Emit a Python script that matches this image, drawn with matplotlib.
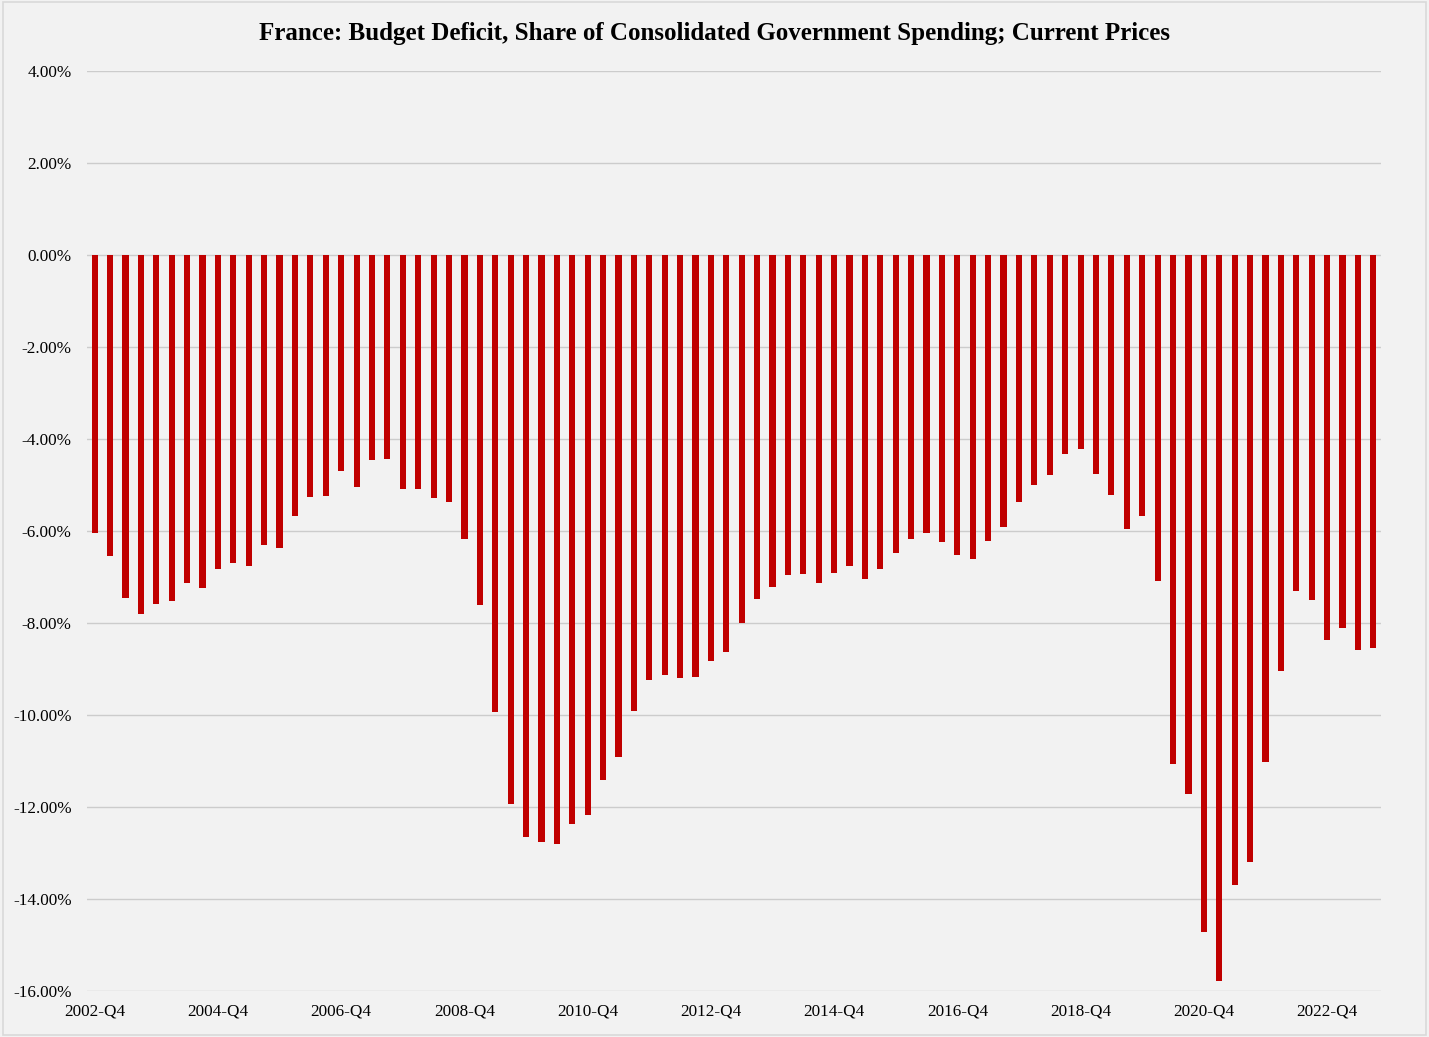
import matplotlib
matplotlib.use("Agg")
import numpy as np
import matplotlib.pyplot as plt
from matplotlib.patches import Rectangle
from matplotlib.ticker import FuncFormatter, FixedLocator

TITLE = "France: Budget Deficit, Share of Consolidated Government Spending; Current Prices"

# quarters 2002-Q4 .. 2023-Q3
START_YEAR, START_Q, N_QUARTERS = 2002, 4, 84
QUARTERS = []
for k in range(N_QUARTERS):
    q = START_Q - 1 + k
    QUARTERS.append(f"{START_YEAR + q // 4}-Q{q % 4 + 1}")

# budget balance, % of consolidated government spending
DEFICIT = [
    -6.04, -6.55, -7.45, -7.81, -7.59, -7.52, -7.12, -7.23, -6.83, -6.70,
    -6.76, -6.30, -6.36, -5.67, -5.26, -5.24, -4.70, -5.04, -4.46, -4.43,
    -5.09, -5.09, -5.28, -5.36, -6.17, -7.61, -9.94, -11.93, -12.66, -12.76,
    -12.80, -12.38, -12.17, -11.42, -10.91, -9.91, -9.23, -9.12, -9.20, -9.17,
    -8.83, -8.63, -8.01, -7.48, -7.21, -6.96, -6.93, -7.14, -6.91, -6.76,
    -7.05, -6.82, -6.47, -6.17, -6.04, -6.25, -6.53, -6.61, -6.22, -5.92,
    -5.36, -4.99, -4.78, -4.32, -4.21, -4.75, -5.21, -5.95, -5.68, -7.08,
    -11.07, -11.72, -14.72, -15.78, -13.69, -13.19, -11.03, -9.04, -7.30, -7.49,
    -8.38, -8.11, -8.58, -8.54,
]

Y_TICKS = [4, 2, 0, -2, -4, -6, -8, -10, -12, -14, -16]
LABEL_EVERY = 8

BG = "#f2f2f2"
BAR_COLOR = "#c00000"
GRID_COLOR = "#cccccc"
FONT = "Liberation Serif"


def main():
    fig = plt.figure(figsize=(14.29, 10.37), dpi=100, facecolor=BG)
    ax = fig.add_axes([0.0609, 0.0444, 0.9055, 0.8871], facecolor=BG)

    x = np.arange(len(DEFICIT))
    ax.bar(x, DEFICIT, width=0.4, color=BAR_COLOR, zorder=3)

    ax.set_xlim(-0.5, len(DEFICIT) - 0.5)
    ax.set_ylim(min(Y_TICKS), max(Y_TICKS))

    ax.yaxis.set_major_locator(FixedLocator(Y_TICKS))
    ax.yaxis.set_major_formatter(FuncFormatter(lambda v, p: f"{v:.2f}%"))
    ax.grid(axis="y", color=GRID_COLOR, linewidth=1.0, zorder=0)

    ticks = x[::LABEL_EVERY]
    ax.set_xticks(ticks)
    ax.set_xticklabels([QUARTERS[i] for i in ticks])

    ax.tick_params(axis="both", length=0, labelsize=12.3, colors="black")
    ax.tick_params(axis="y", pad=11)
    ax.tick_params(axis="x", pad=9)
    for lab in ax.get_xticklabels() + ax.get_yticklabels():
        lab.set_fontfamily(FONT)

    for s in ax.spines.values():
        s.set_visible(False)

    fig.text(0.5, 0.968, TITLE, ha="center", va="center",
             fontsize=18, fontweight="bold", family=FONT)

    fig.patches.append(Rectangle((0.002, 0.002), 0.996, 0.996, transform=fig.transFigure,
                                 fill=False, edgecolor="#d9d9d9", linewidth=1.2))

    fig.savefig("out.png", dpi=100, facecolor=BG)
    plt.close(fig)


if __name__ == "__main__":
    main()
